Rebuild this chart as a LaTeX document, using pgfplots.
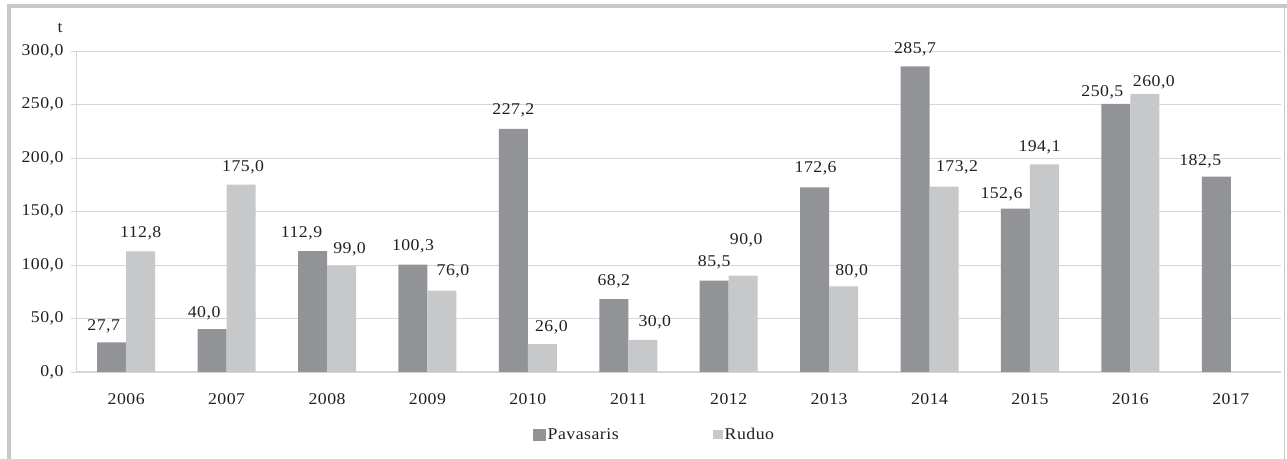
\documentclass[border=0pt]{standalone}
\usepackage{pgfplots}
\usepackage{pgfplotstable}
\pgfplotsset{compat=1.18}
\usepackage{fontspec}
\setmainfont[FakeStretch=1.08, LetterSpace=3]{Liberation Serif}
\definecolor{dark}{HTML}{929397}
\definecolor{light}{HTML}{C7C8CA}
\definecolor{framec}{HTML}{C8C8C8}
\definecolor{gridc}{HTML}{D6D6D6}
\definecolor{txt}{HTML}{231F20}
\newcommand{\fs}{\fontsize{16.5}{19}\selectfont}
\pgfplotstableread{
x y dx dy
0 27.7 -8 -1
1 40.0 -8 -1
2 112.9 -11 1
3 100.3 0 1
4 227.2 0 1
5 68.2 0 1
6 85.5 0 1
7 172.6 1 2
8 285.7 0 0
9 152.6 -14 -3
10 250.5 -13.5 -6
11 182.5 -16 -2
}\pavasaris
\pgfplotstableread{
x y dx dy
0 112.8 0 1
1 175.0 2 0
2 99.0 8 0
3 76.0 11 2
4 26.0 9 0
5 30.0 12 0
6 90.0 3 18
7 80.0 8 -2
8 173.2 13 2
9 194.1 -5 0
10 260.0 9 -6
}\ruduo
\begin{document}
\begin{tikzpicture}[x=1bp,y=1bp]
\path[use as bounding box] (0,0) rectangle (1287,459);
\fill[framec] (7,0) rectangle (11,455);
\fill[framec] (7,451) rectangle (1287,455);
\draw[framec, line width=1bp] (1284,0) -- (1284,451);
\node[text=txt, font=\fs, anchor=base] at (60,426) {t};
\begin{axis}[
  at={(76bp,87bp)}, anchor=south west,
  scale only axis, width=1205bp, height=321bp,
  ymin=0, ymax=300, xmin=-0.5, xmax=11.5,
  ybar=0pt, bar width=29bp,
  xtick={0,...,11},
  xticklabels={2006,2007,2008,2009,2010,2011,2012,2013,2014,2015,2016,2017},
  ytick={0,50,...,300},
  ymajorgrids, grid style={draw=gridc, line width=0.8bp},
  axis lines=left, axis line style={-, draw=gridc, line width=1bp},
  tick align=outside, major tick length=5bp,
  xtick style={draw=none}, ytick style={draw=gridc, line width=0.8bp},
  /pgf/number format/.cd, use comma, fixed, fixed zerofill, precision=1, assume math mode=true,
  /pgfplots/.cd,
  tick label style={font=\fs, text=txt},
  xticklabel style={yshift=-13bp},
  yticklabel style={xshift=-4bp},
  visualization depends on={\thisrow{dx} \as \dx},
  visualization depends on={\thisrow{dy} \as \dy},
  nodes near coords,
  nodes near coords style={font=\fs, text=txt, anchor=base, inner sep=0pt, yshift=13bp, xshift=\dx bp, yshift=\dy bp},
  legend columns=2,
  legend style={at={(rel axis cs:0.48,-0.196)}, anchor=center, draw=none, font=\fs, text=txt,
    /tikz/every even column/.append style={column sep=92bp}},
]
\addplot[fill=dark, draw=none, legend image code/.code={\fill[dark] (0bp,-6bp) rectangle (13bp,6bp);}] table[x=x, y=y] {\pavasaris};
\addplot[fill=light, draw=none, legend image code/.code={\fill[light] (2bp,-4.5bp) rectangle (12bp,4.5bp);}] table[x=x, y=y] {\ruduo};
\legend{Pavasaris, Ruduo}
\end{axis}
\end{tikzpicture}
\end{document}
